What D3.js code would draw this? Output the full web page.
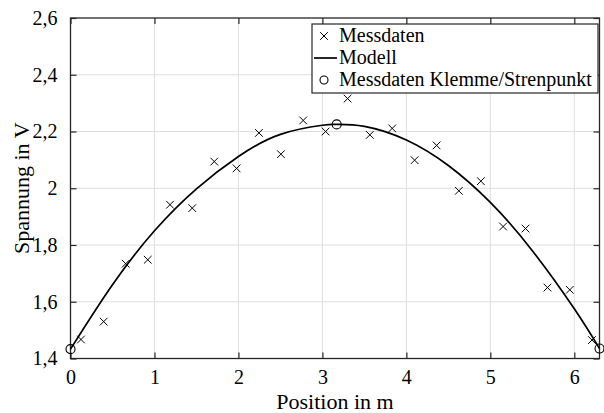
<!DOCTYPE html>
<html>
<head>
<meta charset="utf-8">
<script src="https://d3js.org/d3.v7.min.js"></script>
<style>
  body { margin: 0; background: #fff; }
  text { font-family: "Liberation Serif", "Times New Roman", serif; fill: #000; }
</style>
</head>
<body>
<svg width="604" height="413"></svg>
<script>
// measured data (crosses)
var messX = [0.125, 0.395, 0.657, 0.92, 1.185, 1.45, 1.712, 1.978, 2.244, 2.506, 2.771, 3.038,
             3.30, 3.565, 3.831, 4.098, 4.36, 4.625, 4.887, 5.152, 5.419, 5.68, 5.946, 6.21];
var messY = [1.467, 1.530, 1.734, 1.748, 1.942, 1.930, 2.094, 2.070, 2.195, 2.120, 2.239, 2.200,
             2.316, 2.188, 2.211, 2.099, 2.151, 1.991, 2.025, 1.865, 1.858, 1.650, 1.642, 1.465];

// model curve
var modellX = [0, 0.5, 1.0, 1.5, 2.0, 2.5, 3.0, 3.17, 3.5, 4.0, 4.5, 5.0, 5.5, 6.0, 6.3];
var modellY = [1.433, 1.660, 1.850, 1.998, 2.112, 2.190, 2.222, 2.225, 2.218, 2.170, 2.080, 1.950, 1.780, 1.575, 1.435];

// clamp / support points (circles)
var klemmeX = [0, 3.17, 6.3];
var klemmeY = [1.433, 2.225, 1.435];

// ticks
var xTicks = [0, 1, 2, 3, 4, 5, 6];
var xTickLabels = ["0", "1", "2", "3", "4", "5", "6"];
var yTicks = [1.4, 1.6, 1.8, 2.0, 2.2, 2.4, 2.6];
var yTickLabels = ["1,4", "1,6", "1,8", "2", "2,2", "2,4", "2,6"];

var legendLabels = ["Messdaten", "Modell", "Messdaten Klemme/Strenpunkt"];

var svg = d3.select("svg"),
    margin = {top: 18, right: 4.5, bottom: 54.5, left: 70.5},
    width = +svg.attr("width") - margin.left - margin.right,
    height = +svg.attr("height") - margin.top - margin.bottom;

var x = d3.scaleLinear().domain([0, 6.3]).range([0, width]),
    y = d3.scaleLinear().domain([1.4, 2.6]).range([height, 0]);

var g = svg.append("g")
    .attr("transform", "translate(" + margin.left + "," + margin.top + ")");

// grid
g.append("g").selectAll("line")
  .data(xTicks.slice(1))
  .enter().append("line")
    .attr("x1", function(d) { return x(d); })
    .attr("x2", function(d) { return x(d); })
    .attr("y1", 0).attr("y2", height)
    .attr("stroke", "#dedede").attr("stroke-width", 1);
g.append("g").selectAll("line")
  .data(yTicks.slice(1, -1))
  .enter().append("line")
    .attr("y1", function(d) { return y(d); })
    .attr("y2", function(d) { return y(d); })
    .attr("x1", 0).attr("x2", width)
    .attr("stroke", "#dedede").attr("stroke-width", 1);

// axes with inward ticks on all four sides
function styleAxis(sel) {
  sel.select(".domain").remove();
  sel.selectAll(".tick line").attr("stroke", "#262626").attr("stroke-width", 1.2);
  sel.selectAll(".tick text")
    .style("font-family", "Liberation Serif, serif")
    .style("font-size", "20px")
    .attr("fill", "#000");
}

g.append("g")
    .attr("transform", "translate(0," + height + ")")
    .call(d3.axisBottom(x).tickValues(xTicks).tickSizeInner(-6).tickSizeOuter(0)
      .tickPadding(11).tickFormat(function(d, i) { return xTickLabels[i]; }))
    .call(styleAxis);
g.append("g")
    .call(d3.axisTop(x).tickValues(xTicks).tickSizeInner(-6).tickSizeOuter(0).tickFormat(""))
    .call(styleAxis);
g.append("g")
    .call(d3.axisLeft(y).tickValues(yTicks).tickSizeInner(-6).tickSizeOuter(0)
      .tickPadding(13).tickFormat(function(d, i) { return yTickLabels[i]; }))
    .call(styleAxis);
g.append("g")
    .attr("transform", "translate(" + width + ",0)")
    .call(d3.axisRight(y).tickValues(yTicks).tickSizeInner(-6).tickSizeOuter(0).tickFormat(""))
    .call(styleAxis);

// frame
g.append("rect")
    .attr("width", width).attr("height", height)
    .attr("fill", "none").attr("stroke", "#262626").attr("stroke-width", 1.3);

// axis titles
svg.append("text")
    .attr("x", margin.left + x(3.15)).attr("y", 409)
    .attr("text-anchor", "middle")
    .style("font-size", "22px")
    .text("Position in m");
svg.append("text")
    .attr("transform", "translate(29," + (margin.top + height / 2) + ") rotate(-90)")
    .attr("text-anchor", "middle")
    .style("font-size", "22px")
    .text("Spannung in V");

// model line
var modell = modellX.map(function(d, i) { return [d, modellY[i]]; });
g.append("path")
    .datum(modell)
    .attr("fill", "none")
    .attr("stroke", "#000")
    .attr("stroke-width", 1.7)
    .attr("d", d3.line()
      .x(function(d) { return x(d[0]); })
      .y(function(d) { return y(d[1]); })
      .curve(d3.curveNatural));

// crosses
var cross = d3.symbol().type(d3.symbolTimes).size(40);
g.selectAll(".mess")
  .data(messX)
  .enter().append("path")
    .attr("class", "mess")
    .attr("transform", function(d, i) { return "translate(" + x(d) + "," + y(messY[i]) + ")"; })
    .attr("d", cross)
    .attr("fill", "none")
    .attr("stroke", "#000")
    .attr("stroke-width", 1);

// circles
g.selectAll(".klemme")
  .data(klemmeX)
  .enter().append("circle")
    .attr("class", "klemme")
    .attr("cx", function(d) { return x(d); })
    .attr("cy", function(d, i) { return y(klemmeY[i]); })
    .attr("r", 4.5)
    .attr("fill", "none")
    .attr("stroke", "#000")
    .attr("stroke-width", 1.1);

// legend
var lg = svg.append("g").attr("transform", "translate(312,24)");
lg.append("rect")
    .attr("width", 286).attr("height", 69)
    .attr("fill", "#fff").attr("stroke", "#262626").attr("stroke-width", 1.2);

lg.append("path")
    .attr("transform", "translate(12,12)")
    .attr("d", cross)
    .attr("fill", "none").attr("stroke", "#000").attr("stroke-width", 1);
lg.append("line")
    .attr("x1", 2).attr("x2", 25).attr("y1", 34).attr("y2", 34)
    .attr("stroke", "#000").attr("stroke-width", 1.7);
lg.append("circle")
    .attr("cx", 12).attr("cy", 56).attr("r", 4)
    .attr("fill", "none").attr("stroke", "#000").attr("stroke-width", 1.1);

lg.selectAll(".lt")
  .data(legendLabels)
  .enter().append("text")
    .attr("class", "lt")
    .attr("x", 27)
    .attr("y", function(d, i) { return 18 + i * 22; })
    .style("font-size", "20px")
    .text(function(d) { return d; });
</script>
</body>
</html>
